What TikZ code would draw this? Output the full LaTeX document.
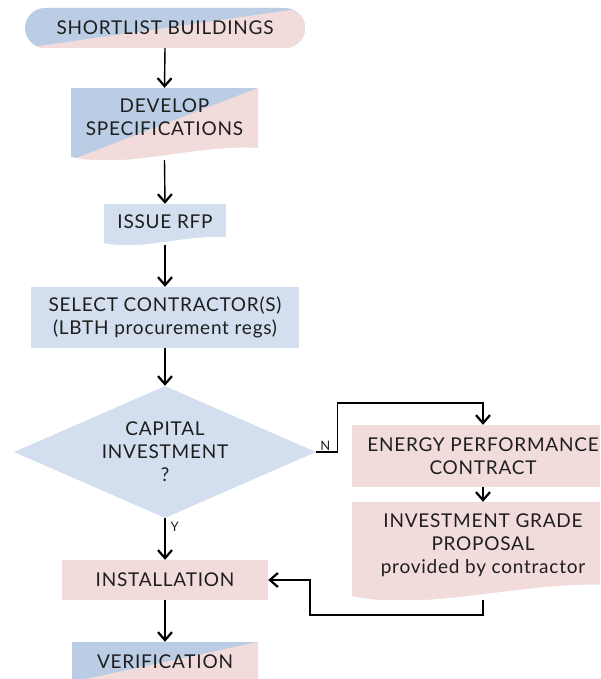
\documentclass[tikz,border=0pt]{standalone}
\usepackage{fontspec}
\setmainfont{Lato}[LetterSpace=4]
\usepackage{tikz}
\usetikzlibrary{positioning}
\usetikzlibrary{calc}
\usetikzlibrary{arrows.meta}
\usetikzlibrary{shapes.geometric}
\usetikzlibrary{shapes.misc}
\definecolor{Sky}{RGB}{211,223,238}
\definecolor{Steel}{RGB}{186,205,229}
\definecolor{Blush}{RGB}{242,220,219}
\definecolor{Ink}{RGB}{30,30,30}

% pink lower half of a two-tone fill
\newcommand{\halffill}{%
  \fill[Blush] (path picture bounding box.south west) -- (path picture bounding box.north east)
    -- (path picture bounding box.south east) -- cycle;}
% cut a wave into the bottom edge
\newcommand{\wavecut}[1]{%
  \fill[white] let \p1=(path picture bounding box.south west),
                   \p2=(path picture bounding box.south east),
                   \n1={\x2-\x1} in
    (\x1,\y1) -- (\x1,\y1+0.25*#1)
    .. controls (\x1+0.3*\n1*1pt,\y1-0.8*#1) and (\x1+0.65*\n1*1pt,\y1+1.3*#1) ..
    (\x2,\y1+#1) -- (\x2,\y1) -- cycle;}

\begin{document}
\begin{tikzpicture}[x=1pt, y=-1pt, >={Straight Barb[length=8pt,width=14pt,line width=2.2pt]},
    every node/.style={font=\fontsize{19}{23}\selectfont, text=Ink, align=center, inner sep=0pt},
    tag/.style={font=\fontsize{13}{15}\selectfont},
    flow/.style={line width=1.4pt, ->},
    twotone/.style={fill=Steel, path picture={\halffill}},
    wavy/.style={path picture={\wavecut{#1}}},
    twowavy/.style={fill=Steel, path picture={\halffill\wavecut{#1}}}]
      \path[use as bounding box, clip] (0,0) rectangle (600,679);

      \node[rounded rectangle, twotone, minimum width=280pt, minimum height=40pt] at (165,28) (short) {SHORTLIST BUILDINGS};
      \node[rectangle, twowavy=12pt, minimum width=187pt, minimum height=72pt,
            label={[yshift=7pt]center:DEVELOP\\SPECIFICATIONS}] at (164.5,124) (dev) {};
      \node[rectangle, fill=Sky, wavy=8pt, minimum width=122pt, minimum height=41pt,
            label={[yshift=3pt]center:ISSUE RFP}] at (165,224.5) (rfp) {};
      \node[rectangle, fill=Sky, minimum width=268pt, minimum height=61pt] at (165,317.5) (sel) {SELECT CONTRACTOR(S)\\(LBTH procurement regs)};
      \node[diamond, aspect=2.3, fill=Sky, minimum width=302pt, minimum height=132pt] at (165,452) (cap) {CAPITAL\\INVESTMENT\\?};

      \node[rectangle, fill=Blush, minimum width=262pt, minimum height=62pt] at (483,456) (epc) {ENERGY PERFORMANCE\\CONTRACT};
      \node[rectangle, fill=Blush, wavy=15pt, minimum width=262pt, minimum height=98pt,
            label={[yshift=6pt]center:INVESTMENT GRADE\\PROPOSAL\\provided by contractor}] at (483,551) (igp) {};

      \node[rectangle, fill=Blush, minimum width=206pt, minimum height=40pt] at (165,580) (inst) {INSTALLATION};
      \node[rectangle, twotone, minimum width=186pt, minimum height=40pt] at (165,662) (ver) {VERIFICATION};

      \foreach \a/\b in {short/dev, dev/rfp, rfp/sel, sel/cap, inst/ver}
      \draw[flow] (\a.south) -- (\b.north);

      \draw[flow] (cap.south) -- node[tag, right=5pt, pos=0.2] {Y} (inst.north);
      \draw[flow] (cap.east) -| ++(21,-49) -| (epc.north);
      \node[tag, anchor=south west] at ($(cap.east)+(4,-1)$) (no) {N};
      \draw[flow] (epc.south) -- (igp.north);

      \coordinate (back) at (310,615);
      \draw[flow] (igp.south) |- (back) |- (inst.east);
    \end{tikzpicture}
\end{document}
